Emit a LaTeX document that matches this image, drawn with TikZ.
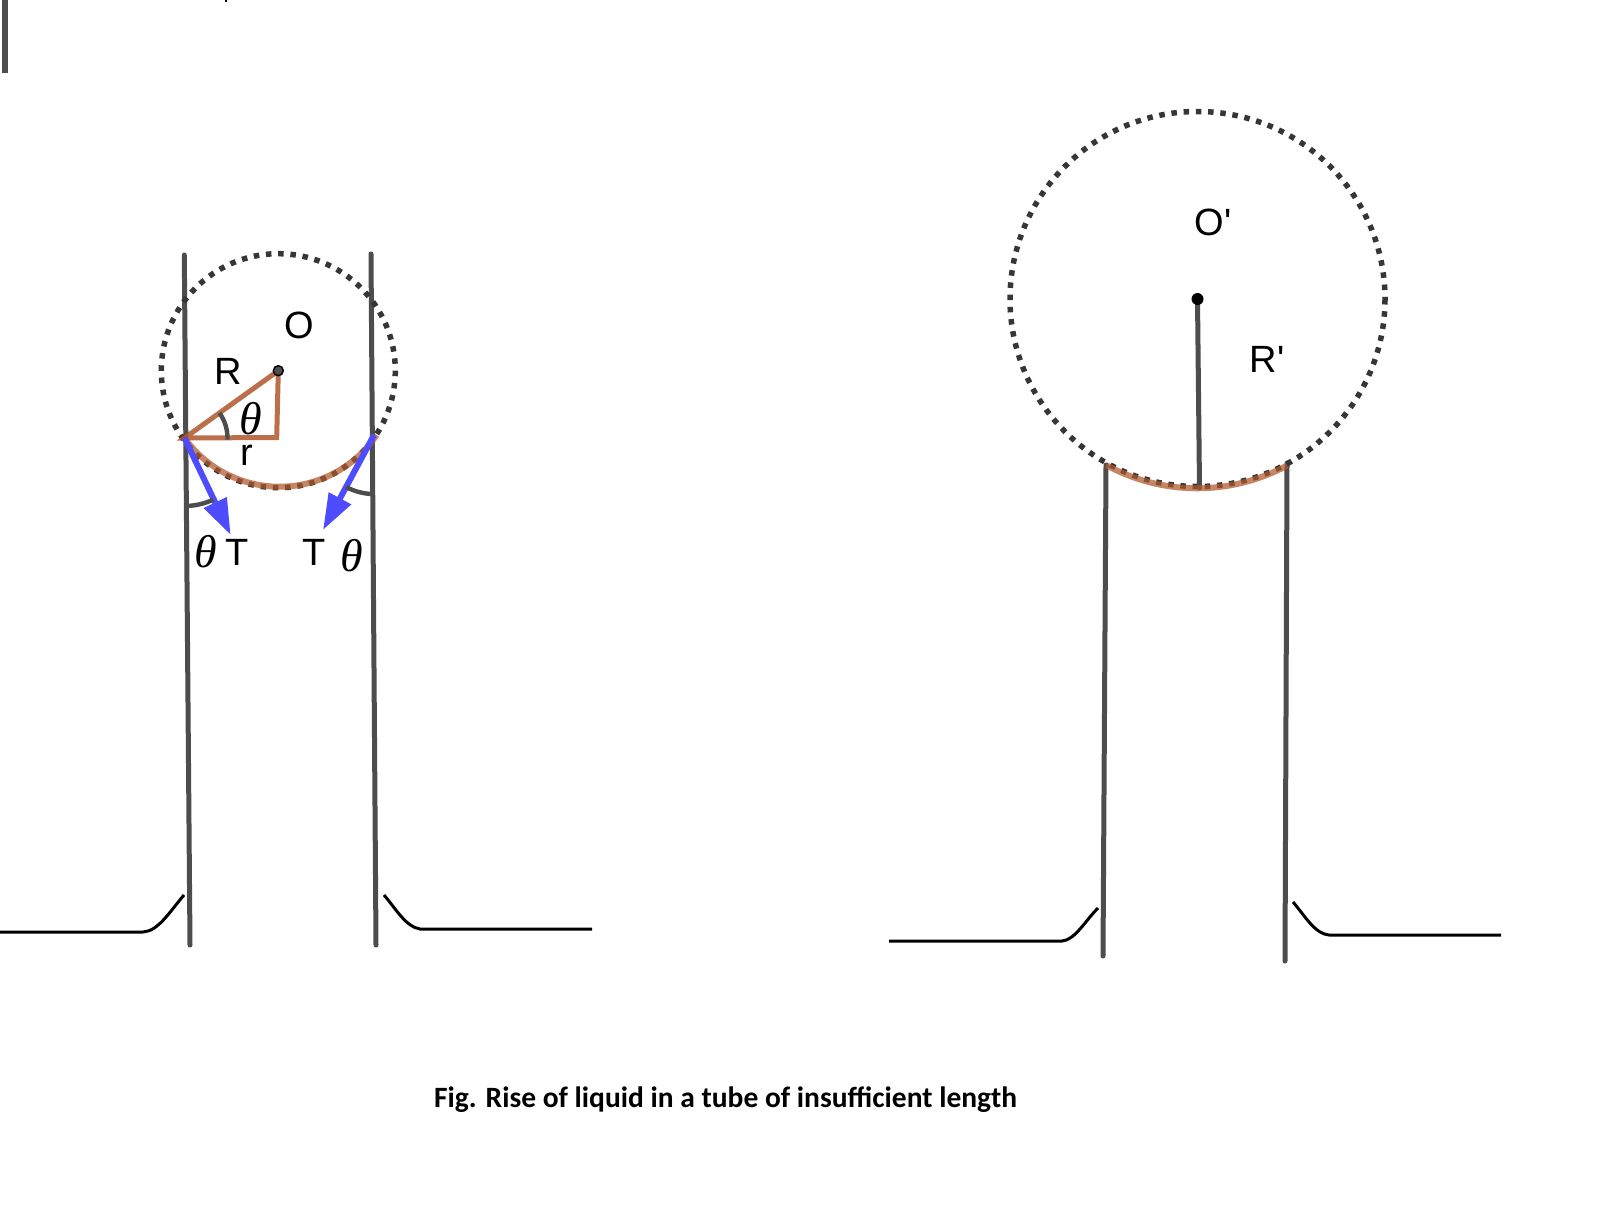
\documentclass[tikz,border=0pt]{standalone}
\usepackage{fontspec}
\setmainfont{Liberation Sans}
\newfontfamily\primefont{Liberation Sans}
\newfontfamily\capfont{Carlito}
\newfontfamily\thetafont{Liberation Serif}
\usetikzlibrary{arrows.meta}
\definecolor{tubegrey}{HTML}{4D4D4D}
\definecolor{liquid}{HTML}{B0582C}
\definecolor{tension}{HTML}{4D4DFF}
\tikzset{
  tube/.style={draw=tubegrey,line width=5pt,line cap=round},
  menisc/.style={draw=liquid,line width=6pt,draw opacity=.72},
  tri/.style={draw=liquid,line width=5pt,line cap=round,draw opacity=.85},
  dotcircle/.style={draw=tubegrey!70!black,line width=5.5pt,dash pattern=on 5.5pt off 6.75pt},
  anglemark/.style={draw=tubegrey,line width=4.4pt},
  force/.style={draw=tension,line width=6pt,-{Triangle[length=36pt,width=24pt]}},
  ground/.style={draw=black,line width=3pt},
  lab/.style={inner sep=0pt,font=\fontsize{38}{38}\selectfont},
  thetalab/.style={inner sep=0pt,font=\thetafont\itshape\fontsize{46}{46}\selectfont},
}
\begin{document}
\begin{tikzpicture}[x=1pt,y=1pt,yscale=-1]
\useasboundingbox[fill=white] (0,0) rectangle (1600,1224);
% stray marks at the top edge
\coordinate (s1) at (5,0); \coordinate (s2) at (5,73);
\draw[draw=tubegrey,line width=5.5pt] (s1) -- (s2);
\coordinate (m1) at (226,0); \coordinate (m2) at (226,2);
\draw[draw=black,line width=1.6pt] (m1) -- (m2);

% ---------- left tube ----------
\coordinate (O) at (278.3,370.7);
\coordinate (A) at (184.5,438);
\coordinate (B) at (374,435);
\coordinate (F) at (276.7,437.5);
\coordinate (LT) at (184.3,255); \coordinate (LB) at (190,945);
\coordinate (RT) at (371,254); \coordinate (RB) at (376,945);
\draw[tube] (LT) -- (LB);
\draw[tube] (RT) -- (RB);
\draw[dotcircle] (O) circle[radius=117];
\draw[menisc] (A) arc[start angle=144.3,end angle=33.9,radius=117];
\draw[tri] (A) -- (O) -- (F) -- cycle;
\draw[anglemark] ([shift={(-35.7:43)}]A) arc[start angle=-35.7,end angle=2,radius=43];
\coordinate (Ta) at (230.7,535); \coordinate (Tb) at (323,530);
\draw[force] (A) -- (Ta);
\draw[force] (B) -- (Tb);
\draw[anglemark] ([shift={(90:68)}]A) arc[start angle=90,end angle=65,radius=68];
\draw[anglemark] ([shift={(90:59)}]B) arc[start angle=90,end angle=118,radius=59];
\fill[tubegrey,draw=black,line width=1.4pt] (O) circle[radius=5];
\node[lab] (lO) at (299,325) {O};
\node[lab] (lR) at (228.5,371) {R};
\node[lab] (lr) at (247,455) {r};
\node[thetalab] (th1) at (251,419) {θ};
\node[thetalab] (th2) at (206,552) {θ};
\node[lab] (lT1) at (237,552) {T};
\node[lab] (lT2) at (314,552) {T};
\node[thetalab] (th3) at (352,556) {θ};
% ground left
\coordinate (g1) at (0,932); \coordinate (g2) at (143,932); \coordinate (g3) at (184,895);
\coordinate (g4) at (384,895); \coordinate (g5) at (420,929); \coordinate (g6) at (592,929);
\draw[ground] (g1) -- (g2) .. controls (158,931) and (168,914) .. (g3);
\draw[ground] (g4) .. controls (396,909) and (406,927) .. (g5) -- (g6);

% ---------- right tube ----------
\coordinate (Op) at (1197.5,299);
\coordinate (Ap) at (1106,465);
\coordinate (Bp) at (1287,463);
\coordinate (Cp) at (1199.5,488);
\coordinate (LBp) at (1103,956);
\coordinate (RBp) at (1285,961);
\draw[tube] (Ap) -- (LBp);
\draw[tube] (Bp) -- (RBp);
\draw[dotcircle] (Op) circle[radius=187.5];
\draw[tube] (Op) -- (Cp);
\draw[menisc] (Ap) arc[start angle=118.7,end angle=61.7,radius=189.5];
\fill[black] (Op) circle[radius=6];
\node[lab] (lOp) at (1213,222) {O{\primefont'}};
\node[lab] (lRp) at (1267,359) {R{\primefont'}};
\coordinate (h1) at (889,941); \coordinate (h2) at (1062,941); \coordinate (h3) at (1098,908);
\coordinate (h4) at (1293,902); \coordinate (h5) at (1329,935); \coordinate (h6) at (1501,935);
\draw[ground] (h1) -- (h2) .. controls (1075,940) and (1085,921) .. (h3);
\draw[ground] (h4) .. controls (1305,916) and (1315,934) .. (h5) -- (h6);

\node[inner sep=0pt,font=\capfont\bfseries\fontsize{29.5}{29.5}\selectfont,text=black] (cap) at (725.5,1100) {Fig. Rise of liquid in a tube of insufficient length};
\end{tikzpicture}
\end{document}
